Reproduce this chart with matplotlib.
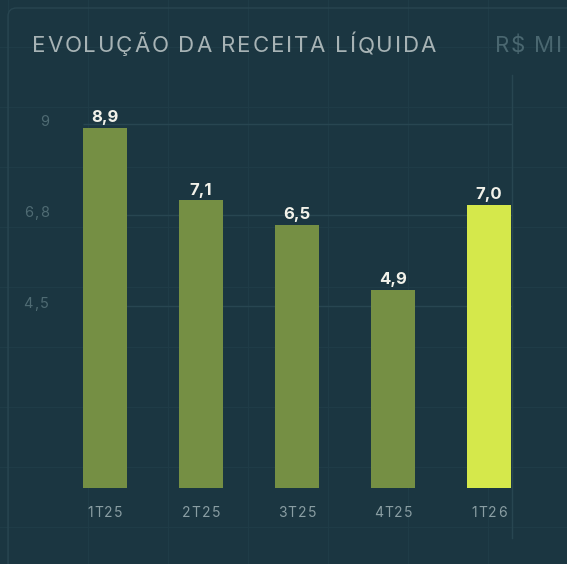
import matplotlib
matplotlib.use("Agg")
import matplotlib.pyplot as plt
from matplotlib.patches import FancyBboxPatch

quarters = ["1T25", "2T25", "3T25", "4T25", "1T26"]
revenue = [8.9, 7.1, 6.5, 4.9, 7.0]
value_labels = ["8,9", "7,1", "6,5", "4,9", "7,0"]
y_ticks = [4.5, 6.75, 9]
y_tick_labels = ["4,5", "6,8", "9"]
title = "EVOLUÇÃO DA RECEITA LÍQUIDA"
unit = "R$ MI"

BG = "#1b3641"
BGGRID = "#1f3c47"
GRID = "#284651"
GREEN = "#758f44"
LIME = "#d5e84b"
FONT = ["Inter", "DejaVu Sans"]

W, H = 567, 564
fig = plt.figure(figsize=(W / 100, H / 100), dpi=100, facecolor=BG)


def fx(x):
    return x / W


def fy(y):
    return 1 - y / H


# faint background grid
for x in range(8, W, 80):
    fig.add_artist(plt.Line2D([fx(x), fx(x)], [0, 1], color=BGGRID, lw=0.8, zorder=0))
for y in range(47, H, 60):
    fig.add_artist(plt.Line2D([0, 1], [fy(y), fy(y)], color=BGGRID, lw=0.8, zorder=0))

# card border
fig.add_artist(FancyBboxPatch((fx(8), fy(620)), fx(640), 612 / H,
                              boxstyle="round,pad=0,rounding_size=0.015",
                              fc="none", ec="#284550", lw=1.0, zorder=1))


def tracked(x, y, s, size, color, track=0.0, ha="left", weight="normal", width=None):
    r = fig.canvas.get_renderer()

    def w(txt):
        t = fig.text(0, 0, txt, fontsize=size, family=FONT, weight=weight)
        ww = t.get_window_extent(r).width
        t.remove()
        return ww

    base = w("nn")
    adv = [w("n" + c + "n") - base for c in s]
    if width is not None:
        track = (width - sum(adv)) / (len(s) - 1)
    total = sum(adv) + track * (len(s) - 1)
    x0 = x - total / 2 if ha == "center" else (x - total if ha == "right" else x)
    for c, a in zip(s, adv):
        if c != " ":
            fig.text(fx(x0), fy(y), c, fontsize=size, family=FONT, weight=weight,
                     color=color, ha="left", va="center", zorder=5)
        x0 += a + track


ax = fig.add_axes([fx(57), fy(488), 480 / W, 413 / H])
ax.set_facecolor("none")
ax.set_xlim(-0.5, 4.5)
ax.set_ylim(0, 413 / 40.5)
ax.axis("off")

ax.hlines(y_ticks, -0.229, 4.24, color=GRID, lw=1.0, zorder=1)
ax.plot([4.24, 4.24], [-1.23, 413 / 40.5], color=GRID, lw=1.0, clip_on=False, zorder=1)

colors = [GREEN] * (len(revenue) - 1) + [LIME]
ax.bar(range(len(revenue)), revenue, width=0.46, color=colors, zorder=2)

for i, (v, lbl) in enumerate(zip(revenue, value_labels)):
    ax.annotate(lbl, (i, v), xytext=(0, 4), textcoords="offset points",
                ha="center", va="baseline", fontsize=12, fontweight="bold",
                family=FONT, color="#f2f2ea")

# x labels
for i, q in enumerate(quarters):
    xp = 105 + i * 96
    tracked(xp, 513, q, 10, "#8a9ea3", track=1.2, ha="center")

# y labels
for t, lbl in zip(y_ticks, y_tick_labels):
    yp = 488 - t * 40.5 - 2
    tracked(49, yp, lbl, 10.5, "#4f6b73", track=1.5, ha="right")

tracked(32, 46, title, 16, "#a7b3b5", weight="normal", width=404)
tracked(495, 46, unit, 16, "#4a6770", weight="normal", width=67)

fig.savefig("out.png", dpi=100, facecolor=BG)
